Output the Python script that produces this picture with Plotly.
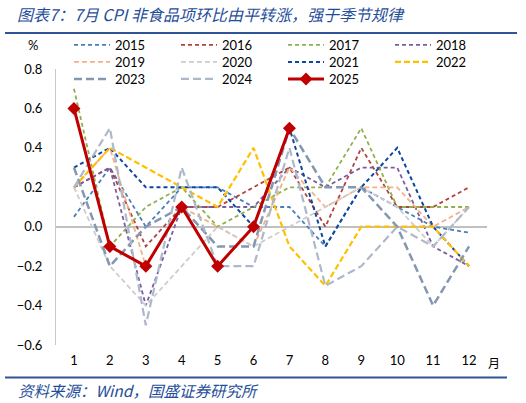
import plotly.graph_objects as go

months = [str(m) for m in range(1, 13)]

y2015 = [0.05, 0.3, 0.0, 0.2, 0.2, 0.1, 0.1, -0.1, 0.2, 0.1, 0.0, -0.03]
y2016 = [0.2, 0.3, -0.1, 0.1, 0.1, 0.2, 0.3, 0.0, 0.4, 0.1, 0.1, 0.2]
y2017 = [0.7, -0.1, 0.1, 0.2, 0.0, 0.1, 0.2, 0.2, 0.5, 0.1, 0.1, 0.1]
y2018 = [0.2, 0.3, -0.4, 0.1, 0.1, 0.1, 0.3, 0.2, 0.3, 0.3, -0.1, -0.2]
y2019 = [0.2, 0.4, -0.2, 0.1, 0.0, -0.1, 0.3, 0.1, 0.2, 0.2, 0.0, 0.1]
y2020 = [0.2, -0.2, -0.4, -0.2, 0.0, -0.1, 0.0, 0.1, 0.2, 0.1, -0.1, 0.1]
y2021 = [0.3, 0.4, 0.2, 0.2, 0.2, 0.0, 0.5, -0.1, 0.2, 0.4, 0.0, -0.2]
y2022 = [0.2, 0.4, 0.3, 0.2, 0.1, 0.4, -0.1, -0.3, 0.0, 0.0, 0.0, -0.2]
y2023 = [0.3, -0.2, 0.0, 0.1, -0.1, -0.1, 0.5, 0.2, 0.2, 0.0, -0.4, -0.1]
y2024 = [0.2, 0.5, -0.5, 0.3, -0.2, -0.2, 0.4, -0.3, -0.2, 0.0, -0.1, 0.1]
y2025 = [0.6, -0.1, -0.2, 0.1, -0.2, 0.0, 0.5]

# name, values, colour, dash, width, legend row
series = [
    ("2015", y2015, "#4A7EBB", "4px,3px", 1.8, "legend"),
    ("2016", y2016, "#B0433F", "4px,3px", 1.8, "legend"),
    ("2017", y2017, "#8FB04E", "4px,3px", 1.8, "legend"),
    ("2018", y2018, "#7A5C9E", "4px,3px", 1.8, "legend"),
    ("2019", y2019, "#F5B183", "5px,3px", 1.8, "legend2"),
    ("2020", y2020, "#CDCDCD", "5px,3px", 1.8, "legend2"),
    ("2021", y2021, "#0D47A1", "4px,3px", 2.0, "legend2"),
    ("2022", y2022, "#FFC000", "6px,3px", 2.2, "legend2"),
    ("2023", y2023, "#8497B0", "8px,4px", 2.5, "legend3"),
    ("2024", y2024, "#ADB9CA", "8px,4px", 2.2, "legend3"),
]

# plot area in pixels
L, R, T, B = 56, 487, 69, 345
PW, PH = R - L, B - T


def px_x(x):
    return (x - L) / PW


def px_y(y):
    return (B - y) / PH


fig = go.Figure()
for name, vals, color, dash, w, lg in series:
    fig.add_trace(go.Scatter(
        x=months, y=vals, name=name, mode="lines", legend=lg,
        line=dict(color=color, dash=dash, width=w),
    ))

fig.add_trace(go.Scatter(
    x=months[:len(y2025)], y=y2025, name="2025", mode="lines+markers",
    legend="legend3",
    line=dict(color="#C00000", width=3),
    marker=dict(symbol="diamond", size=10, color="#C00000"),
))


def legend_row(ypx):
    return dict(
        orientation="h", x=px_x(69), y=px_y(ypx), xanchor="left",
        yanchor="middle", entrywidth=56, entrywidthmode="pixels",
        itemwidth=36, font=dict(size=13), traceorder="normal",
        bgcolor="rgba(0,0,0,0)",
    )


fig.update_layout(
    width=526, height=403,
    margin=dict(l=L, r=526 - R, t=T, b=403 - B, autoexpand=False),
    paper_bgcolor="white", plot_bgcolor="white",
    font=dict(family="Lato, Noto Sans CJK SC", size=13, color="black"),
    showlegend=True,
    legend=legend_row(45),
    legend2=legend_row(62),
    legend3=legend_row(79),
    xaxis=dict(
        type="category", range=[-0.5, 11.5], showgrid=False, showline=False,
        ticks="", tickfont=dict(size=13), ticklabelstandoff=6,
    ),
    # small tick marks sitting on the zero line between the months
    xaxis2=dict(
        overlaying="x", anchor="free", position=0.6 / 1.4,
        range=[-0.5, 11.5], tick0=0.5, dtick=1, ticks="outside",
        ticklen=4, tickcolor="#BFBFBF", showticklabels=False,
        showgrid=False, showline=False, zeroline=False,
    ),
    yaxis=dict(
        range=[-0.6, 0.8], dtick=0.2, tickformat=".1f", showgrid=False,
        showline=True, linecolor="#C8C8C8", linewidth=1,
        zeroline=True, zerolinecolor="#C0C0C0", zerolinewidth=1.5,
        ticks="", tickfont=dict(size=13), ticklabelstandoff=10,
    ),
)

# title and source separator lines
fig.add_shape(type="line", xref="paper", yref="paper",
              x0=px_x(5), x1=px_x(517), y0=px_y(33), y1=px_y(33),
              line=dict(color="#2F5597", width=2))
fig.add_shape(type="line", xref="paper", yref="paper",
              x0=px_x(5), x1=px_x(507), y0=px_y(377.5), y1=px_y(377.5),
              line=dict(color="#2F5597", width=2))

fig.add_annotation(
    text="<i>图表7：7月 CPI 非食品项环比由平转涨，强于季节规律</i>",
    xref="paper", yref="paper", x=px_x(211), y=px_y(14),
    xanchor="center", yanchor="middle", showarrow=False,
    font=dict(family="Noto Sans CJK SC", size=16, color="#1F4E99"),
)
fig.add_annotation(
    text="<i>资料来源：Wind，国盛证券研究所</i>",
    xref="paper", yref="paper", x=px_x(138), y=px_y(390),
    xanchor="center", yanchor="middle", showarrow=False,
    font=dict(family="Noto Sans CJK SC", size=15.5, color="#1F4E99"),
)
fig.add_annotation(
    text="%", xref="paper", yref="paper", x=px_x(33), y=px_y(45),
    xanchor="center", yanchor="middle", showarrow=False,
    font=dict(size=13),
)
fig.add_annotation(
    text="月", xref="paper", yref="paper", x=px_x(494), y=px_y(362),
    xanchor="center", yanchor="middle", showarrow=False,
    font=dict(family="Noto Sans CJK SC", size=12),
)

fig.write_html(
    "out.html",
    config={"displayModeBar": False},
    post_script="document.body.style.margin='0';",
)
